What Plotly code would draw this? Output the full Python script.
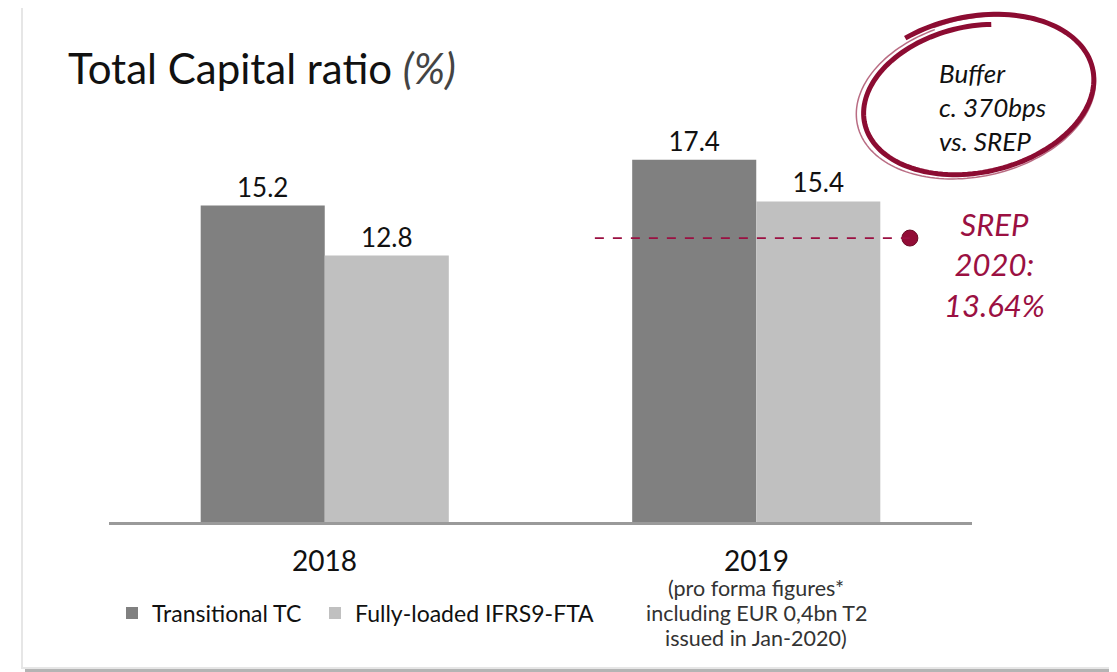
import numpy as np
import plotly.graph_objects as go

# ---------------- data ----------------
categories = ["2018", "2019"]
series_names = ["Transitional TC", "Fully-loaded IFRS9-FTA"]
transitional_tc = [15.2, 17.4]
fully_loaded = [12.8, 15.4]
srep_2020 = 13.64
srep_label = "SREP<br>2020:<br>13.64%"
buffer_label = "Buffer<br>c. 370bps<br>vs. SREP"
subtitle_2019 = ["(pro forma figures*", "including EUR 0,4bn T2", "issued in Jan-2020)"]
title_main = "Total Capital ratio"
title_unit = "(%)"

# ---------------- layout geometry ----------------
OFF = 8  # page body margin
W, H = 1117 - OFF, 672 - OFF
ML, MR, MT, MB = 101, 145, 56, 150
PW, PH = W - ML - MR, H - MT - MB

def px(x):  # reference pixel x -> paper
    return (x - OFF - ML) / PW

def py(y):  # reference pixel y -> paper
    return (H - MB - (y - OFF)) / PH

FONT = "Lato, 'Open Sans', sans-serif"
MAROON = "#8c0c32"
SREP_COL = "#9b1042"

xs = list(range(len(categories)))

fig = go.Figure()
fig.add_trace(go.Bar(
    x=xs, y=transitional_tc, name=series_names[0], legend="legend",
    marker=dict(color="#808080", line=dict(width=0)),
    text=[f"{v:.1f}" for v in transitional_tc], textposition="outside",
    textfont=dict(size=26, color="#111111", family=FONT),
    cliponaxis=False,
))
fig.add_trace(go.Bar(
    x=xs, y=fully_loaded, name=series_names[1], legend="legend2",
    marker=dict(color="#c0c0c0", line=dict(width=0)),
    text=[f"{v:.1f}" for v in fully_loaded], textposition="outside",
    textfont=dict(size=26, color="#111111", family=FONT),
    cliponaxis=False,
))

# SREP marker point
fig.add_trace(go.Scatter(
    x=[1.356], y=[srep_2020], mode="markers", showlegend=False,
    marker=dict(size=16, color="#920c36", line=dict(color="#6a0824", width=1)),
    cliponaxis=False, hoverinfo="skip",
))

shapes = []
# frame shadow + frame
shapes.append(dict(type="rect", xref="paper", yref="paper", layer="below",
                   x0=px(25), x1=px(1114), y0=py(8), y1=py(672),
                   fillcolor="#b4b4b4", line=dict(width=0)))
shapes.append(dict(type="rect", xref="paper", yref="paper", layer="below",
                   x0=px(22), x1=px(1110), y0=py(5), y1=py(668),
                   fillcolor="white", line=dict(color="#e6e6e6", width=2)))
# SREP dashed line (drawn above bars)
shapes.append(dict(type="line", xref="x", yref="y", x0=0.626, x1=1.356,
                   y0=srep_2020, y1=srep_2020,
                   line=dict(color=SREP_COL, width=1.8, dash="dash"), layer="above"))

# hand-drawn ellipse around buffer text
def ellipse_path(cx, cy, a, b, phi, t0, t1, s0, s1, n=160):
    t = np.linspace(t0, t1, n)
    s = np.linspace(s0, s1, n)
    ca, sa = np.cos(phi), np.sin(phi)
    xx = cx + s * (a * np.cos(t) * ca - b * np.sin(t) * sa)
    yy = cy + s * (a * np.cos(t) * sa + b * np.sin(t) * ca)
    pts = [f"{px(x):.5f},{py(y):.5f}" for x, y in zip(xx, yy)]
    return "M" + " L".join(pts)

phi = np.deg2rad(-13)
shapes.append(dict(type="path", xref="paper", yref="paper",
                   path=ellipse_path(975, 97, 121, 78, phi, -np.pi/2 - 0.45,
                                     -np.pi/2 - 0.45 + 2*np.pi + 0.75, 1.04, 0.90),
                   line=dict(color=MAROON, width=5)))
shapes.append(dict(type="path", xref="paper", yref="paper",
                   path=ellipse_path(975, 98, 121, 78, phi, -np.pi/2 - 0.2,
                                     -np.pi/2 - 0.2 + 2*np.pi, 1.02, 0.99),
                   line=dict(color=MAROON, width=1.5), opacity=0.6))

annotations = []
# title
annotations.append(dict(
    xref="paper", yref="paper", x=px(66), y=py(68), xanchor="left", yanchor="middle",
    text=f"{title_main} <i><span style='color:#444444'>{title_unit}</span></i>",
    showarrow=False, font=dict(size=42, color="#111111", family=FONT)))
# category labels
for i, c in enumerate(categories):
    annotations.append(dict(
        xref="x", yref="paper", x=i, y=py(560), xanchor="center", yanchor="middle",
        text=c, showarrow=False, font=dict(size=28, color="#111111", family=FONT)))
for k, line in enumerate(subtitle_2019):
    annotations.append(dict(
        xref="x", yref="paper", x=1, y=py(588 + 25 * k), xanchor="center", yanchor="middle",
        text=line, showarrow=False,
        font=dict(size=21.5, color="#333333", family=FONT)))
# SREP text
annotations.append(dict(
    xref="paper", yref="y", x=px(994), y=srep_2020, yshift=-26,
    xanchor="center", yanchor="middle", text=f"<i>{srep_label}</i>",
    showarrow=False, font=dict(size=31, color=SREP_COL, family=FONT)))
# buffer text
annotations.append(dict(
    xref="paper", yref="paper", x=px(937), y=py(107), xanchor="left", yanchor="middle",
    align="left", text=f"<i>{buffer_label}</i>",
    showarrow=False, font=dict(size=26, color="#111111", family=FONT)))

legend_common = dict(orientation="h", yanchor="middle", xanchor="left",
                     font=dict(size=23, color="#111111", family=FONT),
                     itemwidth=30, bgcolor="rgba(0,0,0,0)")

fig.update_layout(
    width=W, height=H,
    margin=dict(l=ML, r=MR, t=MT, b=MB),
    paper_bgcolor="white", plot_bgcolor="rgba(0,0,0,0)",
    barmode="group", bargap=0.425, bargroupgap=0,
    font=dict(family=FONT, color="#111111"),
    showlegend=True,
    legend=dict(x=px(112), y=py(613), **legend_common),
    legend2=dict(x=px(315), y=py(613), **legend_common),
    xaxis=dict(range=[-0.5, 1.5], showticklabels=False, showgrid=False, zeroline=False,
               showline=True, linecolor="#9a9a9a", linewidth=2.5, ticks=""),
    yaxis=dict(range=[0, 22], visible=False, showgrid=False, zeroline=False),
    shapes=shapes, annotations=annotations,
)

fig.write_html("out.html")
